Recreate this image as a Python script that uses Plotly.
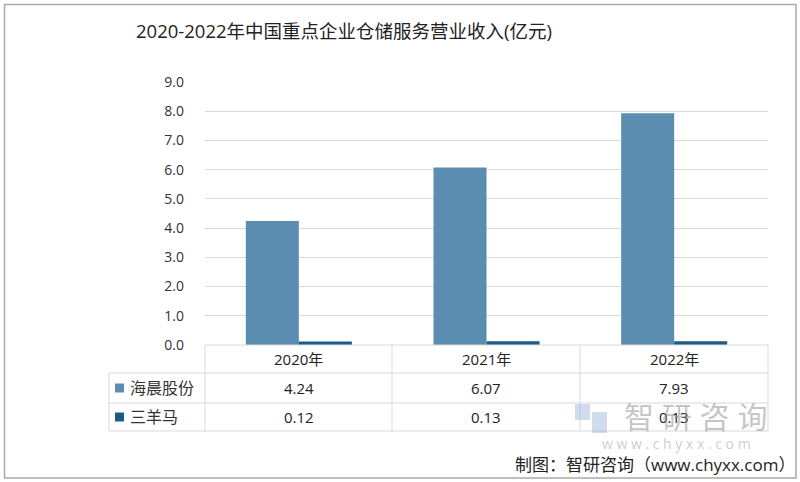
import plotly.graph_objects as go

categories = ["2020年", "2021年", "2022年"]
series_names = ["海晨股份", "三羊马"]
haichen = [4.24, 6.07, 7.93]
sanyangma = [0.12, 0.13, 0.13]
y_ticks = [0, 1, 2, 3, 4, 5, 6, 7, 8, 9]
colors = ["#5a8db0", "#1a5c86"]

W, H = 800, 482
FONT = "Open Sans, Noto Sans CJK SC, sans-serif"

def px(x):
    return x / W

def py(y):
    return (H - y) / H

x0, x1 = 205, 768
y_zero, y_top = 345, 82

fig = go.Figure()
for name, vals, col in zip(series_names, [haichen, sanyangma], colors):
    fig.add_trace(go.Bar(x=categories, y=vals, name=name, marker_color=col,
                         marker_line_width=0, showlegend=False))

shapes = []
line_col = "#d9d9d9"
row_y = [345, 373, 403, 431]
col_x = [205, 392, 580, 768]
label_left = 109
def hline(y, xa, xb):
    shapes.append(dict(type="line", xref="paper", yref="paper", x0=px(xa), x1=px(xb),
                       y0=py(y), y1=py(y), line=dict(color=line_col, width=1)))
def vline(x, ya, yb):
    shapes.append(dict(type="line", xref="paper", yref="paper", x0=px(x), x1=px(x),
                       y0=py(ya), y1=py(yb), line=dict(color=line_col, width=1)))
hline(row_y[0], col_x[0], col_x[-1])
for y in row_y[1:]:
    hline(y, label_left, col_x[-1])
for x in col_x:
    vline(x, row_y[0], row_y[-1])
vline(label_left, row_y[1], row_y[-1])

# outer frame
shapes.append(dict(type="rect", xref="paper", yref="paper", x0=px(4.5), x1=px(796),
                   y0=py(478), y1=py(4.5), line=dict(color="#aaaaaa", width=1.5)))

annotations = []
def text(t, x, y, size, color, xanchor="center", **kw):
    annotations.append(dict(text=t, x=px(x), y=py(y), xref="paper", yref="paper",
                            xanchor=xanchor, yanchor="middle", showarrow=False,
                            font=dict(family=FONT, size=size, color=color), **kw))

text("2020-2022年中国重点企业仓储服务营业收入(亿元)", 134, 31, 18.5, "#222222", "left")

centers = [(col_x[i] + col_x[i + 1]) / 2 for i in range(3)]
for c, cat in zip(centers, categories):
    text(cat, c, 359, 15, "#222222")

for r, (name, vals, col) in enumerate(zip(series_names, [haichen, sanyangma], colors)):
    yc = (row_y[r + 1] + row_y[r + 2]) / 2
    shapes.append(dict(type="rect", xref="paper", yref="paper", x0=px(115), x1=px(124),
                       y0=py(yc + 4.5), y1=py(yc - 4.5), fillcolor=col, line=dict(width=0)))
    text(name, 128, yc, 16, "#333333", "left")
    for c, v in zip(centers, vals):
        text(f"{v:.2f}", c, yc, 15, "#222222")

# watermark
text("智 研 咨 询", 695, 416, 30, "rgba(140,140,140,0.5)")
text("w w w . c h y x x . c o m", 676, 443, 14, "rgba(140,140,140,0.45)")
shapes.append(dict(type="rect", xref="paper", yref="paper", x0=px(575), x1=px(590),
                   y0=py(420), y1=py(404), fillcolor="rgba(150,175,215,0.45)", line=dict(width=0)))
shapes.append(dict(type="rect", xref="paper", yref="paper", x0=px(592), x1=px(607),
                   y0=py(433), y1=py(412), fillcolor="rgba(150,175,215,0.45)", line=dict(width=0)))

text("制图：智研咨询（www.chyxx.com）", 797, 464, 17, "#222222", "right")

fig.update_layout(
    template="none",
    width=W, height=H, margin=dict(l=0, r=0, t=0, b=0, pad=0, autoexpand=False),
    paper_bgcolor="white", plot_bgcolor="white",
    barmode="group", bargap=0.435, bargroupgap=0,
    xaxis=dict(domain=[px(x0), px(x1)], showticklabels=False, showgrid=False,
               showline=False, zeroline=False, ticks="", automargin=False),
    yaxis=dict(domain=[py(y_zero), py(y_top)], range=[0, 9], tickvals=y_ticks,
               ticktext=[f"{v:.1f}" for v in y_ticks], showgrid=True, gridcolor="#d9d9d9",
               gridwidth=1, zeroline=False, showline=False, ticks="", ticklabelstandoff=20,
               automargin=False, tickfont=dict(family=FONT, size=14, color="#333333")),
    shapes=shapes, annotations=annotations,
)
fig.write_html("out.html", config={"displayModeBar": False},
               post_script="document.body.style.margin='0';")
